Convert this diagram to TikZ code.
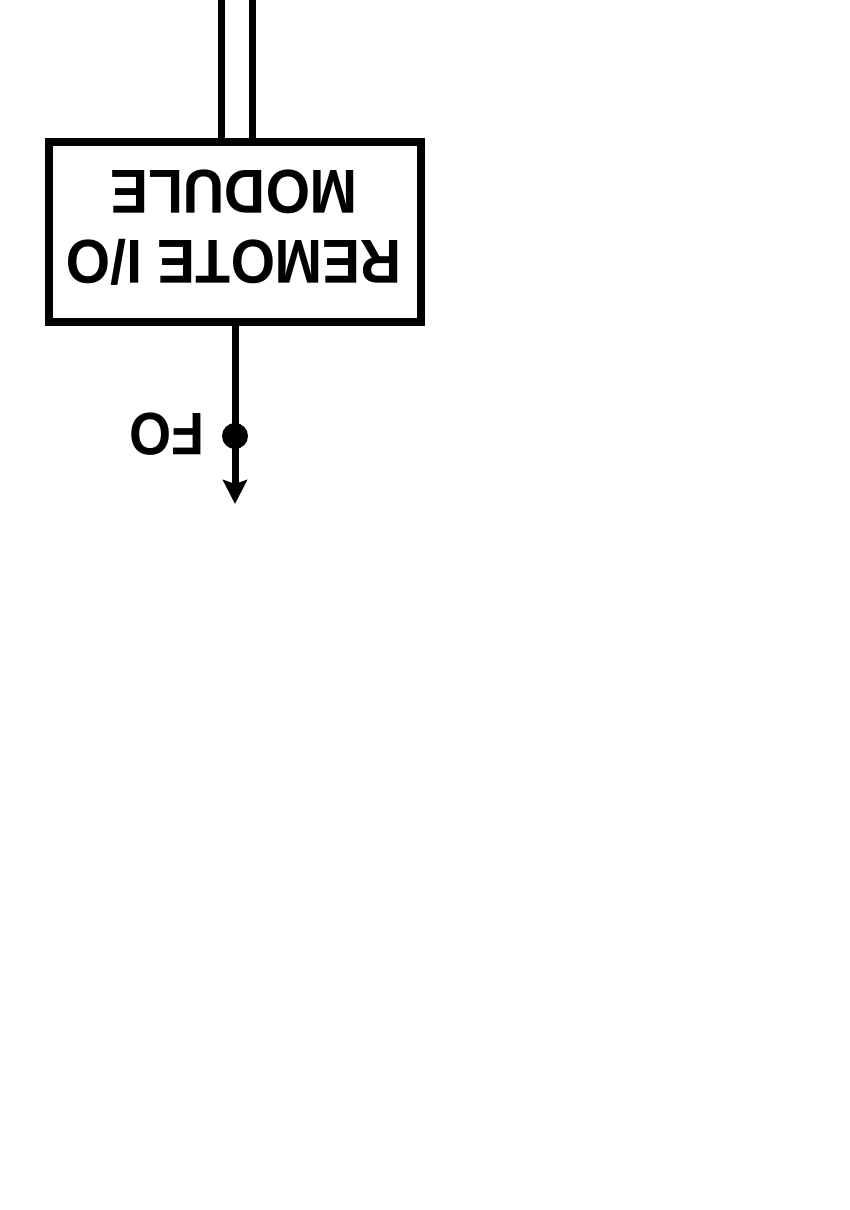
\documentclass[tikz,border=0pt]{standalone}
\usepackage{fontspec}
\setmainfont{Liberation Sans}
\usetikzlibrary{arrows.meta}
\begin{document}
\begin{tikzpicture}[x=1pt,y=-1pt,
  wire/.style={line width=7pt},
  boxstyle/.style={draw,line width=8pt,minimum width=372pt,minimum height=180pt,inner sep=0pt},
  lbl/.style={font=\fontsize{62}{70}\selectfont\bfseries,rotate=180,align=center,inner sep=0pt},
  dotstyle/.style={circle,fill=black,minimum size=26pt,inner sep=0pt}]
\useasboundingbox (0,0) rectangle (850,1210);
\fill[white] (0,0) rectangle (850,1210);
\node[boxstyle] (box) at (235,232) {};
\node[lbl,xscale=0.92] (txt) at (234,228) {REMOTE I/O\\MODULE};
\coordinate (in1) at (221,0);
\coordinate (in2) at (252,0);
\draw[wire] (in1) -- (in1 |- box.north);
\draw[wire] (in2) -- (in2 |- box.north);
\node[dotstyle] (dot) at (235,436) {};
\coordinate (out) at (235,504);
\draw[wire,-{Stealth[length=24pt,width=24pt,inset=4pt]}] (box.south) -- (out);
\node[font=\fontsize{60}{66}\selectfont\bfseries,rotate=180,inner sep=0pt,xscale=0.9] (fo) at (167,434) {FO};
\end{tikzpicture}
\end{document}
